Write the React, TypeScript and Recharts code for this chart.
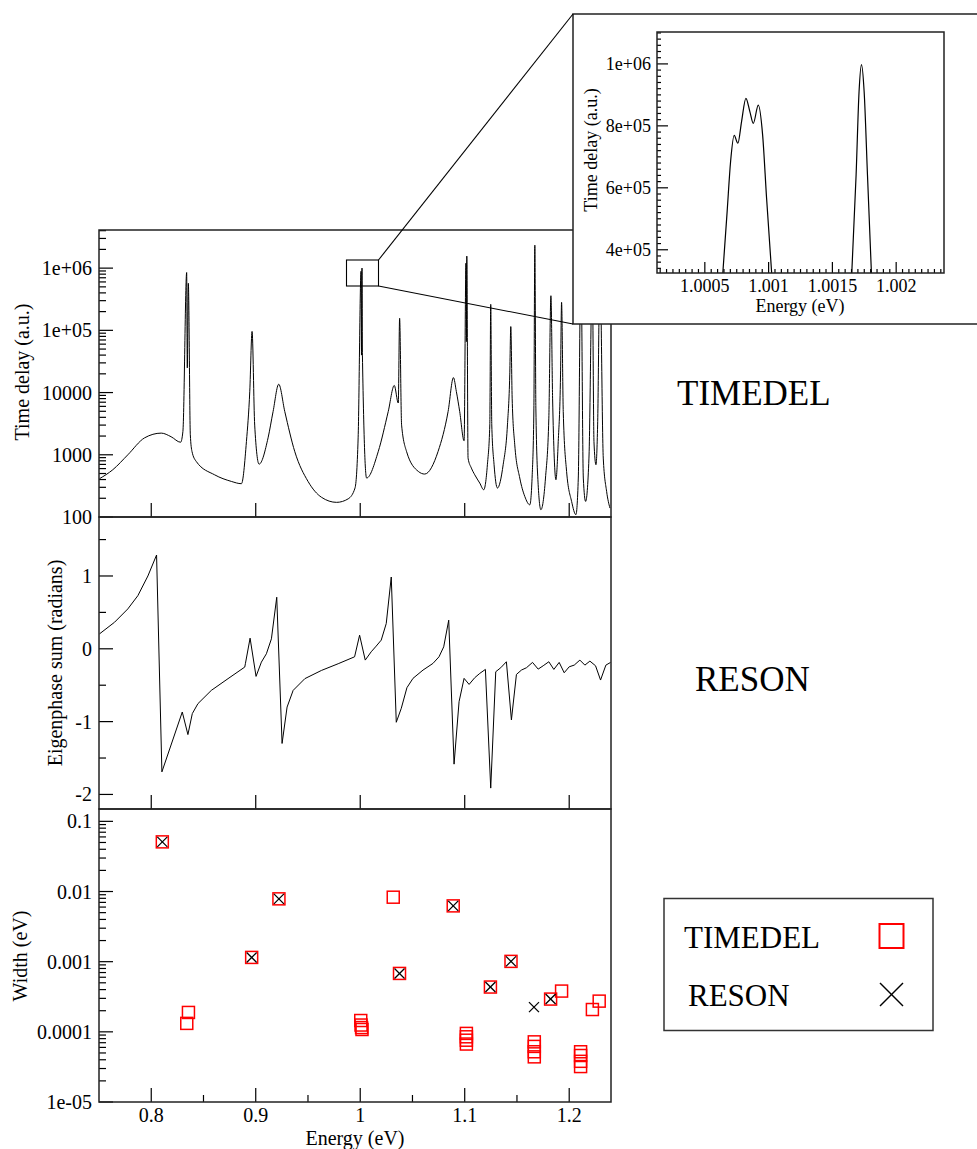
import React from 'react';
import { LineChart, Line, ScatterChart, Scatter, XAxis, YAxis } from 'recharts';

const SERIF = "'Liberation Serif', 'Times New Roman', serif";
const INK = '#000';
const FRAME = '#222';
const RED = '#ff0000';

// shared energy axis of the three stacked panels
const energyDomain: [number, number] = [0.75, 1.24];
const energyMajor = [0.8, 0.9, 1.0, 1.1, 1.2];
const energyMinor = [0.85, 0.95, 1.05, 1.15];
const energyLabels = ['0.8', '0.9', '1', '1.1', '1.2'];

const delayDomain: [number, number] = [100, 4.1e6];
const delayMajor = [1e2, 1e3, 1e4, 1e5, 1e6];
const delayLabels = ['100', '1000', '10000', '1e+05', '1e+06'];

const phaseDomain: [number, number] = [-2.2, 1.81];
const phaseMajor = [-2, -1, 0, 1];
const phaseMinor = [-1.5, -0.5, 0.5, 1.5];
const phaseLabels = ['-2', '-1', '0', '1'];

const widthDomain: [number, number] = [1e-5, 0.15];
const widthMajor = [1e-5, 1e-4, 1e-3, 1e-2, 1e-1];
const widthLabels = ['1e-05', '0.0001', '0.001', '0.01', '0.1'];

const insetEnergyDomain: [number, number] = [1.000125, 1.002375];
const insetEnergyMajor = [1.0005, 1.001, 1.0015, 1.002];
const insetEnergyLabels = ['1.0005', '1.001', '1.0015', '1.002'];
const insetDelayDomain: [number, number] = [3.25e5, 1.103e6];
const insetDelayMajor = [4e5, 6e5, 8e5, 1e6];
const insetDelayLabels = ['4e+05', '6e+05', '8e+05', '1e+06'];

// TIMEDEL time delay (a.u.) vs energy (eV)
const timeDelay: [number, number][] = [
  [0.7504, 412], [0.7632, 575], [0.7776, 1000], [0.7936, 1870], [0.8096, 2230],
  [0.819, 1950], [0.8281, 1590], [0.8303, 2370], [0.8339, 850000], [0.8345, 25000],
  [0.8355, 570000], [0.8374, 2100], [0.839, 1130], [0.8431, 780], [0.8607, 476],
  [0.8767, 373], [0.8863, 343], [0.8911, 1630], [0.8943, 10500], [0.8965, 96000],
  [0.899, 3000], [0.9032, 707], [0.9118, 1870], [0.9166, 4950], [0.922, 13600],
  [0.9278, 4950], [0.9374, 1120], [0.9501, 372], [0.963, 207], [0.9774, 172],
  [0.9885, 196], [0.995, 292], [0.998, 1870], [1.0008, 890000], [1.0012, 40000],
  [1.0017, 1000000], [1.0021, 40000], [1.0061, 423], [1.0172, 1120], [1.0268, 4950],
  [1.0326, 13000], [1.0364, 6800], [1.0377, 156000], [1.0396, 3000], [1.0444, 1120],
  [1.0556, 540], [1.0617, 490], [1.0745, 1130], [1.0841, 4960], [1.0892, 17400],
  [1.092, 10400], [1.0952, 4960], [1.0994, 1680], [1.1012, 1200000], [1.1016, 66000],
  [1.102, 1560000], [1.1032, 885], [1.1064, 611], [1.1096, 477], [1.1144, 351],
  [1.1182, 274], [1.1217, 692], [1.124, 3020], [1.1249, 262000], [1.1259, 3020],
  [1.1281, 692], [1.1313, 292], [1.1368, 692], [1.1409, 3020], [1.1431, 19200],
  [1.1441, 115000], [1.1454, 8130], [1.1479, 1445], [1.1527, 423], [1.1575, 214],
  [1.1623, 157], [1.1646, 477], [1.1662, 5630], [1.1671, 2340000], [1.1681, 5630],
  [1.1703, 330], [1.1729, 131], [1.1773, 423], [1.1805, 3880], [1.1825, 360000],
  [1.1841, 8130], [1.1857, 885], [1.1873, 397], [1.1895, 1630], [1.1917, 19200],
  [1.1927, 282000], [1.1943, 4960], [1.1975, 540], [1.2023, 178], [1.2064, 109],
  [1.2087, 423], [1.2112, 1500000], [1.2135, 423], [1.2157, 178], [1.2189, 885],
  [1.2221, 800000], [1.2237, 1630], [1.2256, 692], [1.2272, 3020], [1.2294, 1000000],
  [1.2326, 885], [1.2358, 258], [1.239, 139],
];

// RESON eigenphase sum (radians)
const eigenphase: [number, number][] = [
  [0.7505, 0.205], [0.7649, 0.365], [0.7776, 0.548], [0.7872, 0.73], [0.7968, 1.0],
  [0.8051, 1.288], [0.8102, -1.69], [0.8297, -0.868], [0.8351, -1.178], [0.8393, -0.89],
  [0.8447, -0.753], [0.8575, -0.571], [0.8735, -0.41], [0.8895, -0.251], [0.8901, -0.205],
  [0.8946, 0.146], [0.9003, -0.379], [0.9054, -0.183], [0.9102, -0.068], [0.915, 0.137],
  [0.9201, 0.708], [0.9252, -1.3], [0.93, -0.8], [0.9358, -0.571], [0.947, -0.41],
  [0.9629, -0.297], [0.9789, -0.205], [0.9946, -0.11], [0.9994, 0.187], [1.0048, -0.155],
  [1.0105, -0.041], [1.0153, 0.037], [1.0201, 0.119], [1.0249, 0.347], [1.0297, 0.986],
  [1.0345, -1.009], [1.0393, -0.817], [1.0447, -0.534], [1.0505, -0.406], [1.0601, -0.292],
  [1.0696, -0.201], [1.0754, -0.11], [1.0799, 0.027], [1.0847, 0.393], [1.0898, -1.584],
  [1.0946, -0.726], [1.0994, -0.406], [1.1042, -0.489], [1.1096, -0.397], [1.1144, -0.338],
  [1.1198, -0.283], [1.1249, -1.913], [1.1297, -0.315], [1.1345, -0.26], [1.1399, -0.178],
  [1.1447, -0.977], [1.1495, -0.352], [1.1543, -0.292], [1.1591, -0.26], [1.1649, -0.187],
  [1.1703, -0.279], [1.1751, -0.233], [1.1805, -0.178], [1.1853, -0.283], [1.1904, -0.187],
  [1.1952, -0.329], [1.2, -0.247], [1.2048, -0.224], [1.2102, -0.155], [1.215, -0.224],
  [1.2198, -0.169], [1.2252, -0.233], [1.23, -0.429], [1.2351, -0.224], [1.2396, -0.187],
];

// resonance widths (eV) found by each method
const timedelWidths: [number, number][] = [
  [0.8106, 0.051], [0.8356, 1.89e-4], [0.834, 1.32e-4], [0.8961, 1.15e-3], [0.9222, 7.86e-3],
  [1.0005, 1.45e-4], [1.0008, 1.25e-4], [1.0013, 1.15e-4], [1.0017, 1.08e-4],
  [1.0316, 8.3e-3], [1.0376, 6.8e-4], [1.089, 6.24e-3],
  [1.1016, 9.5e-5], [1.1016, 8.5e-5], [1.1016, 7.6e-5], [1.1016, 6.7e-5],
  [1.1246, 4.35e-4], [1.1443, 1.01e-3],
  [1.1666, 7.2e-5], [1.1666, 6.2e-5], [1.1666, 5.2e-5], [1.1666, 4.4e-5],
  [1.1822, 2.93e-4], [1.1927, 3.81e-4],
  [1.2109, 5.2e-5], [1.2109, 4.6e-5], [1.2109, 3.8e-5], [1.2109, 3.2e-5],
  [1.2222, 2.08e-4], [1.2287, 2.74e-4],
];
const resonWidths: [number, number][] = [
  [0.8106, 0.051], [0.8961, 1.15e-3], [0.9222, 7.86e-3], [1.0376, 6.8e-4], [1.089, 6.24e-3],
  [1.1246, 4.35e-4], [1.1443, 1.01e-3], [1.1663, 2.25e-4], [1.1822, 2.93e-4],
];

// zoomed time delay near 1.001 eV (null = curve below the inset's range)
const insetDelay: [number, number | null][] = [
  [1.000641, 3.25e5], [1.000675, 5.24e5], [1.000702, 6.85e5], [1.00073, 7.69e5],
  [1.000759, 7.44e5], [1.000788, 8.14e5], [1.000822, 8.89e5], [1.000853, 8.46e5],
  [1.00088, 8.08e5], [1.000919, 8.67e5], [1.000953, 7.71e5], [1.000984, 5.67e5],
  [1.001024, 3.25e5], [1.0013, null], [1.001652, 3.25e5], [1.001686, 6.42e5],
  [1.001709, 9.1e5], [1.001728, 9.98e5], [1.001749, 9.1e5], [1.001775, 6.42e5],
  [1.001806, 3.25e5],
];

const delayData = timeDelay.map(([e, v]) => ({ e, v }));
const phaseData = eigenphase.map(([e, v]) => ({ e, v }));
const timedelData = timedelWidths.map(([e, w]) => ({ e, w }));
const resonData = resonWidths.map(([e, w]) => ({ e, w }));
const insetData = insetDelay.map(([e, v]) => ({ e, v }));

const logMinors = (lo: number, hi: number) => {
  const out: number[] = [];
  for (let d = Math.floor(Math.log10(lo)); d <= Math.ceil(Math.log10(hi)); d++) {
    for (let m = 2; m <= 9; m++) {
      const v = m * Math.pow(10, d);
      if (v > lo && v < hi) out.push(v);
    }
  }
  return out;
};
const insetEnergyTicks = Array.from({ length: 45 }, (_, k) => 1 + (k + 3) * 5e-5);
const insetDelayTicks = Array.from({ length: 39 }, (_, k) => 3.4e5 + k * 2e4);

const isNear = (a: number, b: number) =>
  Math.abs(a - b) <= 1e-9 * Math.max(Math.abs(a), Math.abs(b));

type TickOpts = {
  majors: number[];
  labels?: string[];
  major: number;
  minor: number;
  size: number;
  gap: number;
};

// ticks point inward, xmgrace style
const leftTick = (o: TickOpts) => (props: any) => {
  const { x, y, payload } = props;
  const i = o.majors.findIndex((m) => isNear(m, payload.value));
  return (
    <g>
      <line x1={x} x2={x + (i >= 0 ? o.major : o.minor)} y1={y} y2={y} stroke={INK} strokeWidth={1.2} />
      {i >= 0 && o.labels ? (
        <text x={x - o.gap} y={y} dy="0.35em" textAnchor="end" fontFamily={SERIF} fontSize={o.size} fill={INK}>
          {o.labels[i]}
        </text>
      ) : null}
    </g>
  );
};

const bottomTick = (o: TickOpts) => (props: any) => {
  const { x, y, payload } = props;
  const i = o.majors.findIndex((m) => isNear(m, payload.value));
  return (
    <g>
      <line x1={x} x2={x} y1={y} y2={y - (i >= 0 ? o.major : o.minor)} stroke={INK} strokeWidth={1.2} />
      {i >= 0 && o.labels ? (
        <text x={x} y={y + o.gap} textAnchor="middle" fontFamily={SERIF} fontSize={o.size} fill={INK}>
          {o.labels[i]}
        </text>
      ) : null}
    </g>
  );
};

const axisCommon = {
  type: 'number' as const,
  allowDataOverflow: true,
  interval: 0 as const,
  tickSize: 0,
  tickMargin: 0,
  tickLine: false,
  axisLine: false,
};

const squareShape = (props: any) => (
  <rect x={props.cx - 6} y={props.cy - 6} width={12} height={12} fill="none" stroke={RED} strokeWidth={1.5} />
);
const crossShape = (props: any) => (
  <g stroke={INK} strokeWidth={1.3}>
    <line x1={props.cx - 5} y1={props.cy - 5} x2={props.cx + 5} y2={props.cy + 5} />
    <line x1={props.cx - 5} y1={props.cy + 5} x2={props.cx + 5} y2={props.cy - 5} />
  </g>
);

const abs = (left: number, top: number): React.CSSProperties => ({ position: 'absolute', left, top });

export default function App() {
  return (
    <div style={{ position: 'absolute', left: 0, top: 0, width: 977, height: 1149, overflow: 'hidden', background: '#fff', fontFamily: SERIF }}>
      {/* time delay panel */}
      <div style={abs(0, 220)}>
        <LineChart width={620} height={312} data={delayData} margin={{ top: 10, right: 9, bottom: 0, left: 0 }}>
          <XAxis {...axisCommon} dataKey="e" domain={energyDomain} ticks={energyMajor} height={15}
            tick={bottomTick({ majors: energyMajor, major: 14, minor: 7, size: 20, gap: 20 })} />
          <YAxis {...axisCommon} scale="log" domain={delayDomain} width={99}
            ticks={[...delayMajor, ...logMinors(delayDomain[0], delayDomain[1])]}
            tick={leftTick({ majors: delayMajor, labels: delayLabels, major: 14, minor: 7, size: 20, gap: 7 })} />
          <Line type="monotone" dataKey="v" stroke={INK} strokeWidth={1} dot={false} activeDot={false} isAnimationActive={false} />
        </LineChart>
      </div>

      {/* eigenphase sum panel */}
      <div style={abs(0, 507)}>
        <LineChart width={620} height={317} data={phaseData} margin={{ top: 10, right: 9, bottom: 0, left: 0 }}>
          <XAxis {...axisCommon} dataKey="e" domain={energyDomain} ticks={energyMajor} height={15}
            tick={bottomTick({ majors: energyMajor, major: 14, minor: 7, size: 20, gap: 20 })} />
          <YAxis {...axisCommon} domain={phaseDomain} width={99} ticks={[...phaseMajor, ...phaseMinor]}
            tick={leftTick({ majors: phaseMajor, labels: phaseLabels, major: 14, minor: 7, size: 20, gap: 7 })} />
          <Line type="linear" dataKey="v" stroke={INK} strokeWidth={1} dot={false} activeDot={false} isAnimationActive={false} />
        </LineChart>
      </div>

      {/* widths panel */}
      <div style={abs(0, 799)}>
        <ScatterChart width={620} height={343} margin={{ top: 10, right: 9, bottom: 0, left: 0 }}>
          <XAxis {...axisCommon} dataKey="e" domain={energyDomain} ticks={[...energyMajor, ...energyMinor]} height={40}
            tick={bottomTick({ majors: energyMajor, labels: energyLabels, major: 14, minor: 7, size: 20, gap: 20 })} />
          <YAxis {...axisCommon} dataKey="w" scale="log" domain={widthDomain} width={99}
            ticks={[...widthMajor, ...logMinors(widthDomain[0], widthDomain[1])]}
            tick={leftTick({ majors: widthMajor, labels: widthLabels, major: 14, minor: 7, size: 20, gap: 7 })} />
          <Scatter name="TIMEDEL" data={timedelData} shape={squareShape} isAnimationActive={false} />
          <Scatter name="RESON" data={resonData} shape={crossShape} isAnimationActive={false} />
        </ScatterChart>
      </div>

      {/* frames, titles, labels and legend */}
      <svg width={977} height={1149} style={{ ...abs(0, 0), pointerEvents: 'none' }} fontFamily={SERIF} fill={INK}>
        <g fill="none" stroke={FRAME} strokeWidth={1.5}>
          <rect x={99} y={230} width={512} height={287} />
          <rect x={99} y={517} width={512} height={292} />
          <rect x={99} y={809} width={512} height={293} />
        </g>
        <text transform="translate(29,372) rotate(-90)" textAnchor="middle" fontSize={20}>Time delay (a.u.)</text>
        <text transform="translate(62,663) rotate(-90)" textAnchor="middle" fontSize={20}>Eigenphase sum (radians)</text>
        <text transform="translate(27,956) rotate(-90)" textAnchor="middle" fontSize={20}>Width (eV)</text>
        <text x={355} y={1145} textAnchor="middle" fontSize={20}>Energy (eV)</text>

        <text x={677} y={405} fontSize={35}>TIMEDEL</text>
        <text x={695} y={691} fontSize={35}>RESON</text>

        <rect x={664} y={898.5} width={269} height={132} fill="none" stroke="#333" strokeWidth={1.5} />
        <text x={684} y={948} fontSize={31}>TIMEDEL</text>
        <text x={688} y={1006} fontSize={31}>RESON</text>
        <rect x={879.5} y={924} width={24} height={24} fill="none" stroke={RED} strokeWidth={2} />
        <g stroke={INK} strokeWidth={1.5}>
          <line x1={880} y1={983} x2={903} y2={1006} />
          <line x1={880} y1={1006} x2={903} y2={983} />
        </g>
      </svg>

      {/* inset background */}
      <div style={{ ...abs(573, 14), width: 420, height: 310, background: '#fff' }} />

      {/* inset: zoom of the 1.001 eV resonances */}
      <div style={abs(580, 20)}>
        <LineChart width={374} height={283} data={insetData} margin={{ top: 12, right: 10, bottom: 0, left: 0 }}>
          <XAxis {...axisCommon} dataKey="e" domain={insetEnergyDomain} ticks={insetEnergyTicks} height={30}
            tick={bottomTick({ majors: insetEnergyMajor, labels: insetEnergyLabels, major: 11, minor: 4, size: 18, gap: 19 })} />
          <YAxis {...axisCommon} domain={insetDelayDomain} width={77} ticks={insetDelayTicks}
            tick={leftTick({ majors: insetDelayMajor, labels: insetDelayLabels, major: 11, minor: 4, size: 18, gap: 6 })} />
          <Line type="monotone" dataKey="v" stroke={INK} strokeWidth={1.2} dot={false} activeDot={false} connectNulls={false} isAnimationActive={false} />
        </LineChart>
      </div>

      {/* inset frame, titles and zoom connectors */}
      <svg width={977} height={1149} style={{ ...abs(0, 0), pointerEvents: 'none' }} fontFamily={SERIF} fill={INK}>
        <rect x={573} y={14} width={420} height={310} fill="none" stroke={FRAME} strokeWidth={1.5} />
        <rect x={657} y={32} width={287} height={241} fill="none" stroke={FRAME} strokeWidth={1.5} />
        <text transform="translate(597,150) rotate(-90)" textAnchor="middle" fontSize={18}>Time delay (a.u.)</text>
        <text x={800} y={312} textAnchor="middle" fontSize={18}>Energy (eV)</text>
        <g fill="none" stroke={INK} strokeWidth={1.1}>
          <rect x={346.5} y={260} width={32} height={26} />
          <line x1={378.5} y1={260} x2={573} y2={14} />
          <line x1={378.5} y1={286} x2={573} y2={324} />
        </g>
      </svg>
    </div>
  );
}
